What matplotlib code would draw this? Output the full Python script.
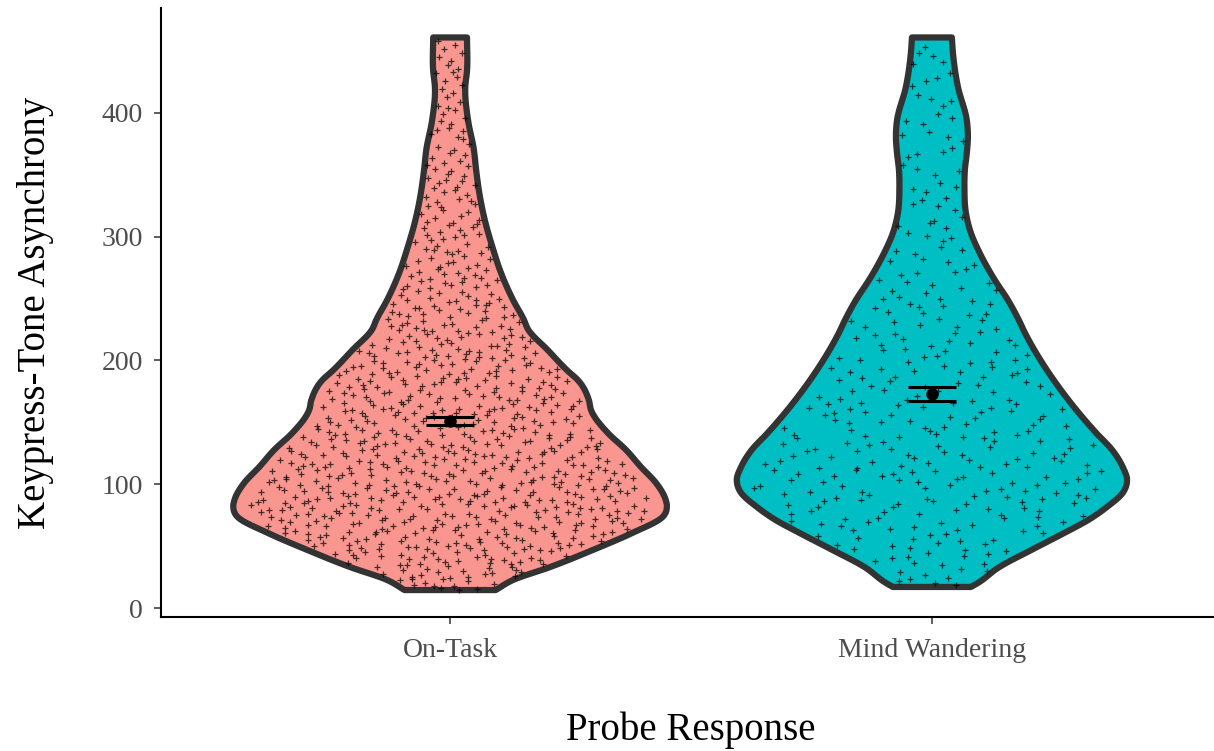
import numpy as np
import matplotlib
matplotlib.use("Agg")
import matplotlib.pyplot as plt
from matplotlib.patches import Polygon

# ---------------- data ----------------
categories = ["On-Task", "Mind Wandering"]

# violin density profiles: value levels and relative half-widths (1 = widest violin)
ontask_levels = [14.5, 22.6, 33, 47, 60.6, 73.5, 82, 87, 101, 114, 128, 141, 160, 168,
                 184, 192, 208.5, 225, 233, 249, 273, 289, 313.5, 330, 354, 370, 394,
                 421, 434, 461]
ontask_widths = [0.21, 0.29, 0.46, 0.66, 0.84, 0.98, 1.00, 0.995, 0.95, 0.88, 0.81, 0.73,
                 0.65, 0.64, 0.59, 0.54, 0.45, 0.36, 0.34, 0.29, 0.23, 0.20, 0.16, 0.14,
                 0.12, 0.11, 0.083, 0.07, 0.078, 0.078]

mw_levels = [17, 20, 33, 47, 60.6, 71, 82, 93, 103.4, 114, 128, 141, 168, 195, 222, 233,
             249, 265, 287, 303, 319, 340, 354, 367.7, 381, 394, 421, 448.5, 461]
mw_widths = [0.18, 0.21, 0.31, 0.46, 0.61, 0.72, 0.81, 0.88, 0.90, 0.88, 0.83, 0.76, 0.63,
             0.52, 0.43, 0.40, 0.35, 0.29, 0.22, 0.18, 0.157, 0.15, 0.152, 0.161, 0.166,
             0.161, 0.12, 0.097, 0.092]

n_points = [820, 340]          # approximate number of observations per group
means = [151.2, 172.9]
ses = [3.4, 5.45]
yticks = [0, 100, 200, 300, 400]

# ---------------- styling ----------------
fill_colors = ["#F8968F", "#00BFC4"]
edge_color = "#333333"
plt.rcParams["font.family"] = ["Liberation Serif", "DejaVu Serif"]

W, H = 1214, 751
fig = plt.figure(figsize=(W / 100, H / 100), dpi=100)
left_px, right_px, top_px, bottom_px = 161, 1221, 8, 617
ax = fig.add_axes([left_px / W, 1 - bottom_px / H,
                   (right_px - left_px) / W, (bottom_px - top_px) / H])

max_half = 0.45
profiles = [(ontask_levels, ontask_widths), (mw_levels, mw_widths)]


def smooth_outline(y, w, per_seg=8):
    """Cubic Hermite curve through the read profile points (drawing only)."""
    y = np.asarray(y, float)
    w = np.asarray(w, float)
    m = np.gradient(w, y)
    out_y, out_w = [], []
    for k in range(len(y) - 1):
        h = y[k + 1] - y[k]
        t = np.linspace(0, 1, per_seg, endpoint=False)
        h00 = 2 * t**3 - 3 * t**2 + 1
        h10 = t**3 - 2 * t**2 + t
        h01 = -2 * t**3 + 3 * t**2
        h11 = t**3 - t**2
        out_y.append(y[k] + t * h)
        out_w.append(h00 * w[k] + h10 * h * m[k] + h01 * w[k + 1] + h11 * h * m[k + 1])
    out_y.append([y[-1]])
    out_w.append([w[-1]])
    return np.concatenate(out_y), np.concatenate(out_w)


def halton(idx, base):
    res = np.zeros(len(idx))
    f = np.ones(len(idx))
    i = idx.astype(float).copy()
    while np.any(i > 0):
        f = f / base
        res += f * (i % base)
        i = np.floor(i / base)
    return res


for i, (lev, wid) in enumerate(profiles):
    xc = i + 1
    lev = np.asarray(lev, float)
    hw = np.asarray(wid, float) * max_half
    sy, sw = smooth_outline(lev, hw)
    xs = np.concatenate([xc - sw, (xc + sw)[::-1]])
    ys = np.concatenate([sy, sy[::-1]])
    poly = Polygon(np.column_stack([xs, ys]), closed=True, facecolor=fill_colors[i],
                   edgecolor=edge_color, linewidth=4.5, joinstyle="round", zorder=1)
    ax.add_patch(poly)

    # observations spread through the violin following the read density (deterministic)
    seg_area = 0.5 * (hw[1:] + hw[:-1]) * np.diff(lev)
    cdf = np.concatenate([[0], np.cumsum(seg_area)]) / seg_area.sum()
    n = n_points[i]
    idx = np.arange(1, n + 1) + 37 * (i + 1)
    a = halton(idx, 3)
    b = halton(idx, 2)
    py = np.interp(a, cdf, lev)
    pw = np.interp(py, sy, sw)
    px = xc + (2 * b - 1) * pw * 0.93
    ax.plot(px, py, linestyle="none", marker="+", markersize=4, markeredgewidth=0.9,
            color="black", alpha=0.72, zorder=2)

# mean and standard error
for i, (m, s) in enumerate(zip(means, ses)):
    xc = i + 1
    ax.vlines(xc, m - s, m + s, color="black", linewidth=2.2, zorder=4)
    ax.hlines([m - s, m + s], xc - 0.05, xc + 0.05, color="black", linewidth=2.2, zorder=4)
    ax.plot([xc], [m], marker="o", markersize=8, color="black", zorder=5)

# axes
ax.set_xlim(0.4, 2.6)
ax.set_ylim(-7.27, 484.8)
ax.set_xticks([1, 2])
ax.set_xticklabels(categories)
ax.set_yticks(yticks)
ax.set_yticklabels([str(t) for t in yticks])
for side in ["top", "right"]:
    ax.spines[side].set_visible(False)
for side in ["left", "bottom"]:
    ax.spines[side].set_linewidth(1.5)
    ax.spines[side].set_color("black")
ax.tick_params(axis="both", length=5, width=1.1, color="#333333",
               labelsize=20, labelcolor="#4D4D4D")
ax.tick_params(axis="x", pad=10)
ax.tick_params(axis="y", pad=8)
ax.set_facecolor("white")

fig.text(691 / W, 1 - 730 / H, "Probe Response", ha="center", va="center", fontsize=28)
fig.text(36 / W, 1 - 313 / H, "Keypress-Tone Asynchrony", ha="center", va="center",
         rotation=90, fontsize=28)

fig.savefig("out.png", dpi=100)
